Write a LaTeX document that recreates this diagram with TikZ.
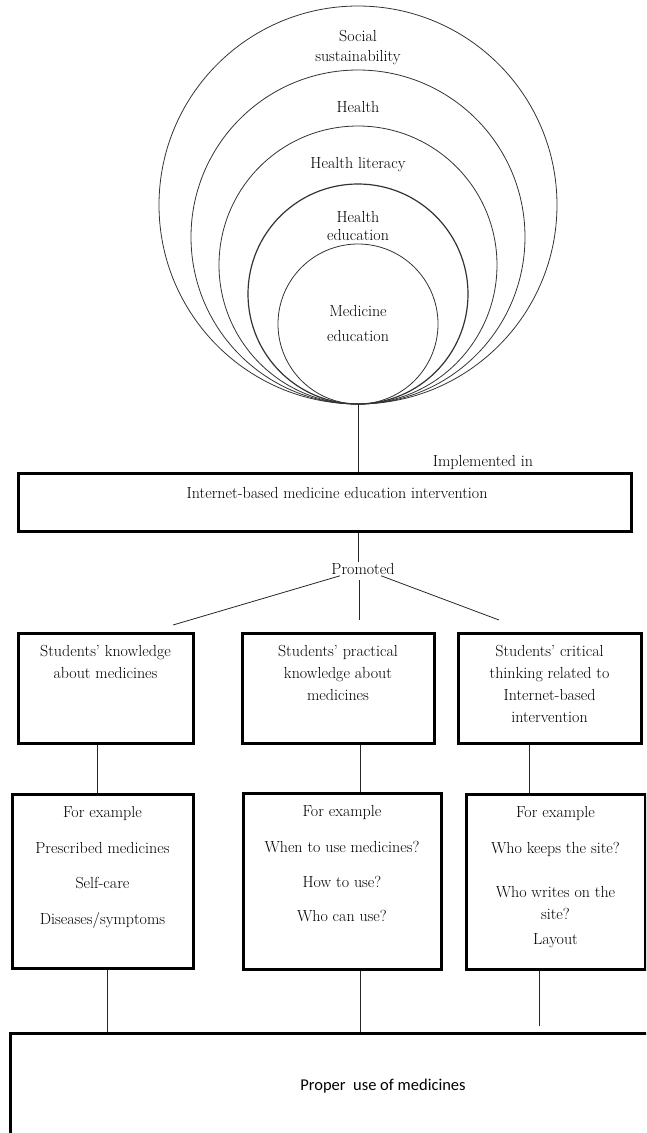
\documentclass[tikz,border=0pt]{standalone}
\usepackage{fontspec}
\newfontfamily\calibri{Carlito}
\usetikzlibrary{positioning}

\tikzset{
  ring/.style={circle, draw=black!80, line width=0.8pt, inner sep=0pt},
  frame/.style={draw, line width=3pt, inner sep=0pt},
  lbl/.style={align=center, font=\fontsize{16}{21}\selectfont, inner sep=1pt},
  link/.style={line width=0.8pt, draw=black!85},
}

\begin{document}
\begin{tikzpicture}[x=1pt, y=-1pt]
\useasboundingbox (0,0) rectangle (646,1133);
\clip (0,0) rectangle (646,1133);

% nested circles, all touching at the bottom
\node[ring, minimum size=398] (c1) at (358,205) {};
\node[ring, minimum size=334] (c2) at (358,237) {};
\node[ring, minimum size=278] (c3) at (358,265) {};
\node[ring, minimum size=220, line width=1.2pt] (c4) at (358,294) {};
\node[ring, minimum size=160] (c5) at (358,324) {};
\node[lbl, font=\fontsize{16}{20}\selectfont] (l1) at (358,48) {Social\\sustainability};
\node[lbl] (l2) at (358,107) {Health};
\node[lbl] (l3) at (358,165) {Health literacy};
\node[lbl, font=\fontsize{16}{18}\selectfont] (l4) at (358,226) {Health\\education};
\node[lbl, font=\fontsize{16}{25}\selectfont] (l5) at (358,324) {Medicine\\education};

% intervention
\node[frame, minimum width=613, minimum height=58] (web) at (324.5,502) {};
\node[lbl] (webt) at (337,493) {Internet-based medicine education intervention};
\node[lbl] (impl) at (483,463) {Implemented in};
\draw[link] (c5.south) -- (c5.south |- web.north);
\node[lbl] (prom) at (363,569) {Promoted};
\draw[link] (c5.south |- web.south) -- (c5.south |- prom.north);
\coordinate (bl) at (173,625);
\coordinate (bm) at (359,620);
\coordinate (br) at (499,620);
\draw[link] (prom) -- (bl);
\draw[link, shorten <=4pt] (prom.south -| bm) -- (bm);
\draw[link] (prom) -- (br);

% what was promoted
\node[frame, minimum width=175, minimum height=110] (k1) at (105.5,688) {};
\node[frame, minimum width=192, minimum height=110] (k2) at (338,688) {};
\node[frame, minimum width=183, minimum height=110] (k3) at (549.5,688) {};
\node[lbl, anchor=north, font=\fontsize{16}{22}\selectfont] (k1t) at ([yshift=-13pt]k1.north) {Students' knowledge\\about medicines};
\node[lbl, anchor=north, font=\fontsize{16}{22}\selectfont] (k2t) at ([yshift=-13pt]k2.north) {Students' practical\\knowledge about\\medicines};
\node[lbl, anchor=north, font=\fontsize{16}{22}\selectfont] (k3t) at ([yshift=-13pt]k3.north) {Students' critical\\thinking related to\\Internet-based\\intervention};

% examples
\node[frame, minimum width=181, minimum height=174] (e1) at (102.5,881) {};
\node[frame, minimum width=198, minimum height=176] (e2) at (342,881) {};
\node[frame, minimum width=179, minimum height=175] (e3) at (555.5,881.5) {};
\node[lbl, anchor=north, font=\fontsize{16}{22}\selectfont] (e1t) at ([yshift=-13pt]e1.north) {For example\\[13.5pt]Prescribed medicines\\[13.5pt]Self-care\\[13.5pt]Diseases/symptoms};
\node[lbl, anchor=north, font=\fontsize{16}{22}\selectfont] (e2t) at ([yshift=-13pt]e2.north) {For example\\[13.5pt]When to use medicines?\\[13.5pt]How to use?\\[12pt]Who can use?};
\node[lbl, anchor=north, font=\fontsize{16}{22}\selectfont] (e3t) at ([yshift=-13pt]e3.north) {For example\\[14pt]Who keeps the site?\\[22pt]Who writes on the\\site?\\[3pt]Layout};
\draw[link] ([xshift=-8.5pt]k1.south) -- ([xshift=-5.5pt]e1.north);
\draw[link] ([xshift=22pt]k2.south) -- ([xshift=18pt]e2.north);
\draw[link] ([xshift=-20.5pt]k3.south) -- ([xshift=-26.5pt]e3.north);

% outcome
\node[frame, minimum width=650, minimum height=112] (use) at (335,1089) {};
\node[font=\calibri\fontsize{16.5}{18}\selectfont] (uset) at (383,1086) {Proper\ \ use of medicines};
\draw[link] ([xshift=4.5pt]e1.south) -- ([xshift=4.5pt]e1.south |- use.north);
\draw[link] ([xshift=18pt]e2.south) -- ([xshift=18pt]e2.south |- use.north);
\draw[link] ([xshift=-16.5pt]e3.south) -- ([xshift=-16.5pt, yshift=6pt]e3.south |- use.north);
\end{tikzpicture}
\end{document}
